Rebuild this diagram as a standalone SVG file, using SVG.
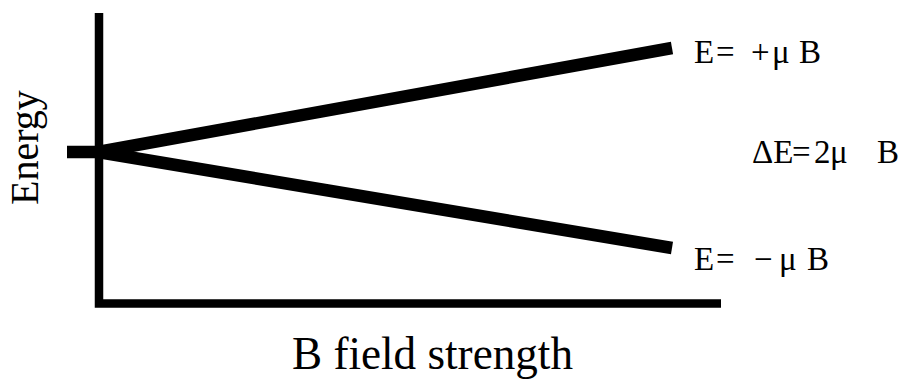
<svg xmlns="http://www.w3.org/2000/svg" width="908" height="380" viewBox="0 0 908 380">
<style>
.ax{stroke:#000;stroke-width:8.5;fill:none;stroke-linecap:butt}
.lv{stroke:#000;stroke-width:12.5;fill:none;stroke-linecap:butt}
.t{font-family:"Liberation Serif","Times New Roman",serif;fill:#000}
.lab{font-size:33px}
</style>
<rect width="908" height="380" fill="#fff"/>
<g id="axes">
<path class="ax" d="M99,13 V303.5 H721"/>
</g>
<g id="connectors">
<path class="lv" d="M67,152 H100"/>
<path class="lv" d="M98,152 L672,48"/>
<path class="lv" d="M98,152 L672,248"/>
</g>
<g id="label-upper">
<text class="t lab" y="63"><tspan x="694">E</tspan><tspan x="716">=</tspan><tspan x="751">+</tspan><tspan x="772">μ</tspan><tspan x="799">B</tspan></text>
</g>
<g id="label-delta">
<text class="t lab" y="163"><tspan x="752">ΔE</tspan><tspan x="792">=</tspan><tspan x="814">2</tspan><tspan x="830">μ</tspan><tspan x="877">B</tspan></text>
</g>
<g id="label-lower">
<text class="t lab" y="270"><tspan x="694">E</tspan><tspan x="716">=</tspan><tspan x="754">−</tspan><tspan x="779">μ</tspan><tspan x="807">B</tspan></text>
</g>
<g id="x-title">
<text class="t" x="292" y="369" font-size="46" textLength="281" lengthAdjust="spacingAndGlyphs">B field strength</text>
</g>
<g id="y-title">
<text class="t" x="38" y="205" font-size="40" transform="rotate(-90 38 205)">Energy</text>
</g>
</svg>
